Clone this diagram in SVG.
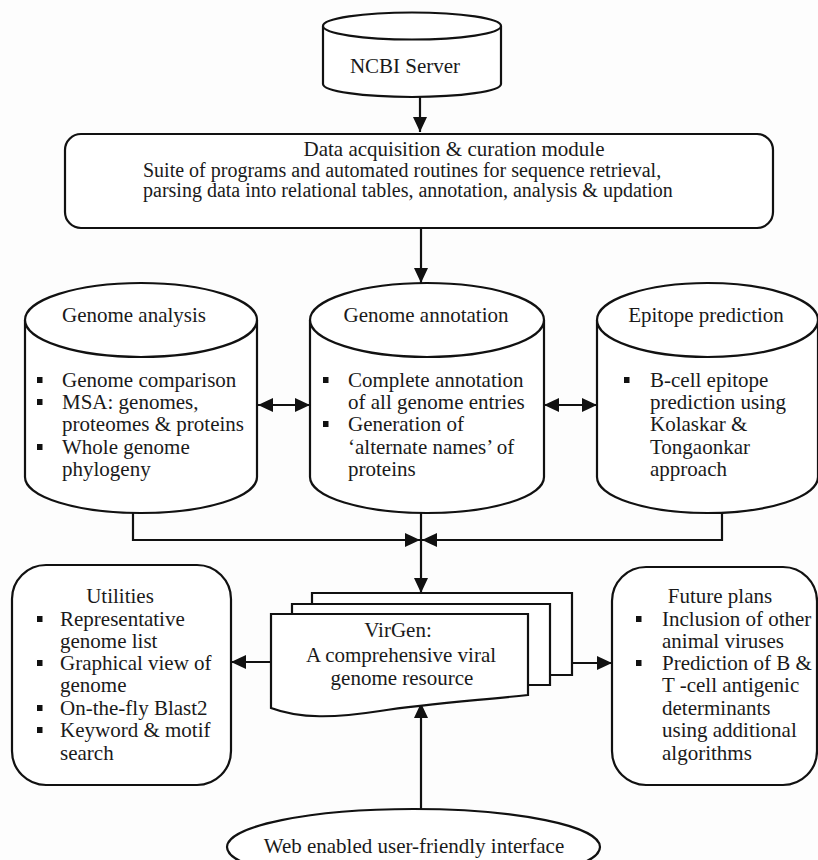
<svg xmlns="http://www.w3.org/2000/svg" width="818" height="860" viewBox="0 0 818 860">
<defs>
<style>
.s{fill:#fff;stroke:#111;stroke-width:2.2}
.t{font-family:"Liberation Serif","Times New Roman",serif;font-size:21px;fill:#1a1a1a}
.d{font-size:20px}
.m{text-anchor:middle}
.c{fill:none;stroke:#111;stroke-width:2.2}
.b{fill:#111}
</style>
<marker id="ah" markerUnits="userSpaceOnUse" markerWidth="16" markerHeight="14" refX="15" refY="7" orient="auto-start-reverse">
<path d="M0,0 L15,7 L0,14 z" fill="#111"/>
</marker>
</defs>
<rect width="818" height="860" fill="#fdfdfd"/>

<g id="connectors">
<line class="c" x1="420" y1="97" x2="420" y2="132" marker-end="url(#ah)"/>
<line class="c" x1="421" y1="228" x2="421" y2="283" marker-end="url(#ah)"/>
<line class="c" x1="258" y1="405" x2="310" y2="405" marker-start="url(#ah)" marker-end="url(#ah)"/>
<line class="c" x1="544" y1="405" x2="597" y2="405" marker-start="url(#ah)" marker-end="url(#ah)"/>
<polyline class="c" points="133,513 133,540 420,540" marker-end="url(#ah)"/>
<polyline class="c" points="722,513 722,540 422,540" marker-end="url(#ah)"/>
<line class="c" x1="421" y1="512" x2="421" y2="593" marker-end="url(#ah)"/>
<line class="c" x1="271" y1="662" x2="231" y2="662" marker-end="url(#ah)"/>
<line class="c" x1="572" y1="663" x2="612" y2="663" marker-end="url(#ah)"/>
<line class="c" x1="421" y1="809" x2="421" y2="703" marker-end="url(#ah)"/>
</g>

<g id="ncbi">
<path class="s" d="M323,26 L323,84 A89,13 0 0 0 501,84 L501,26"/>
<ellipse class="s" cx="412" cy="26" rx="89" ry="13.5"/>
<text class="t m" x="405" y="73">NCBI Server</text>
</g>

<g id="data">
<rect class="s" x="65" y="134" width="708" height="94" rx="16"/>
<text class="t m" x="454" y="156">Data acquisition &amp; curation module</text>
<text class="t d" x="143" y="177">Suite of programs and automated routines for sequence retrieval,</text>
<text class="t d" x="143" y="197">parsing data into relational tables, annotation, analysis &amp; updation</text>
</g>

<g id="genome-analysis">
<path class="s" d="M25,320 L25,477 A116,36 0 0 0 257,477 L257,320"/>
<ellipse class="s" cx="141" cy="320" rx="116" ry="37"/>
<text class="t m" x="134" y="322">Genome analysis</text>
<rect class="b" x="37" y="377" width="5.5" height="6"/>
<rect class="b" x="37" y="399" width="5.5" height="6"/>
<rect class="b" x="37" y="444" width="5.5" height="6"/>
<text class="t" x="62" y="387">Genome comparison</text>
<text class="t" x="62" y="409">MSA: genomes,</text>
<text class="t" x="62" y="431">proteomes &amp; proteins</text>
<text class="t" x="62" y="454">Whole genome</text>
<text class="t" x="62" y="476">phylogeny</text>
</g>

<g id="genome-annotation">
<path class="s" d="M310,320 L310,477 A117,36 0 0 0 544,477 L544,320"/>
<ellipse class="s" cx="427" cy="320" rx="117" ry="37"/>
<text class="t m" x="426" y="322">Genome annotation</text>
<rect class="b" x="323" y="377" width="5.5" height="6"/>
<rect class="b" x="323" y="421" width="5.5" height="6"/>
<text class="t" x="348" y="387">Complete annotation</text>
<text class="t" x="348" y="409">of all genome entries</text>
<text class="t" x="348" y="431">Generation of</text>
<text class="t" x="348" y="454">‘alternate names’ of</text>
<text class="t" x="348" y="476">proteins</text>
</g>

<g id="epitope">
<path class="s" d="M597,320 L597,477 A110.5,36 0 0 0 818,477 L818,320"/>
<ellipse class="s" cx="707.5" cy="320" rx="110.5" ry="37"/>
<text class="t m" x="706" y="322">Epitope prediction</text>
<rect class="b" x="624" y="377" width="5.5" height="6"/>
<text class="t" x="650" y="387">B-cell epitope</text>
<text class="t" x="650" y="409">prediction using</text>
<text class="t" x="650" y="431">Kolaskar &amp;</text>
<text class="t" x="650" y="454">Tongaonkar</text>
<text class="t" x="650" y="476">approach</text>
</g>

<g id="utilities">
<rect class="s" x="12" y="565" width="219" height="220" rx="34"/>
<text class="t m" x="120" y="603">Utilities</text>
<rect class="b" x="37" y="616" width="5.5" height="6"/>
<rect class="b" x="37" y="660" width="5.5" height="6"/>
<rect class="b" x="37" y="705" width="5.5" height="6"/>
<rect class="b" x="37" y="727" width="5.5" height="6"/>
<text class="t" x="60" y="626">Representative</text>
<text class="t" x="60" y="648">genome list</text>
<text class="t" x="60" y="670">Graphical view of</text>
<text class="t" x="60" y="692">genome</text>
<text class="t" x="60" y="715">On-the-fly Blast2</text>
<text class="t" x="60" y="737">Keyword &amp; motif</text>
<text class="t" x="60" y="760">search</text>
</g>

<g id="virgen">
<path class="s" d="M312,675 L312,593 L572,593 L572,675 Z"/>
<path class="s" d="M292,685 L292,604 L550,604 L550,685 Z"/>
<path class="s" d="M271,708 L271,614 L528,614 L528,695 C470,701 425,704 380,711 C335,718 300,719 271,708 Z"/>
<text class="t m" x="398" y="637">VirGen:</text>
<text class="t m" x="401" y="662">A comprehensive viral</text>
<text class="t m" x="402" y="685">genome resource</text>
</g>

<g id="future">
<rect class="s" x="612" y="567" width="205" height="218" rx="34"/>
<text class="t m" x="720" y="603">Future plans</text>
<rect class="b" x="636" y="616" width="5.5" height="6"/>
<rect class="b" x="636" y="660" width="5.5" height="6"/>
<text class="t" x="662" y="626">Inclusion of other</text>
<text class="t" x="662" y="648">animal viruses</text>
<text class="t" x="662" y="670">Prediction of B &amp;</text>
<text class="t" x="662" y="692">T -cell antigenic</text>
<text class="t" x="662" y="715">determinants</text>
<text class="t" x="662" y="737">using additional</text>
<text class="t" x="662" y="760">algorithms</text>
</g>

<g id="web">
<ellipse class="s" cx="413.5" cy="847" rx="186.5" ry="38"/>
<text class="t m" x="414" y="853">Web enabled user-friendly interface</text>
</g>
</svg>
